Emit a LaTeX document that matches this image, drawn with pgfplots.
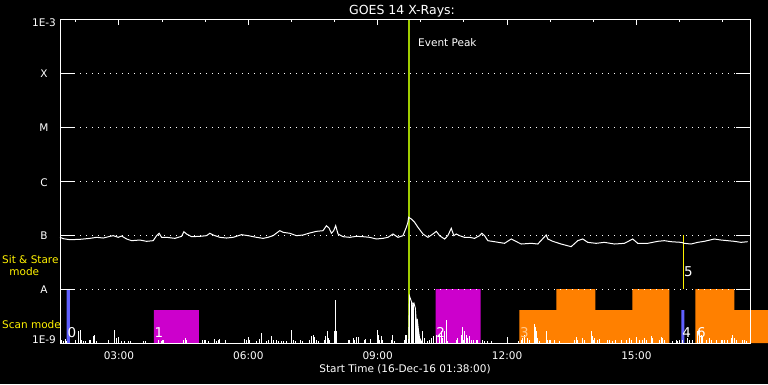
\documentclass[border=0pt]{standalone}
\usepackage{pgfplots}
\pgfplotsset{compat=1.18}
\usepackage{fontspec}
\setmainfont{DejaVu Sans}
\definecolor{gline}{RGB}{160,204,0}
\definecolor{mag}{RGB}{204,0,204}
\definecolor{org}{RGB}{255,128,0}
\definecolor{blu}{RGB}{96,96,255}
\definecolor{pale}{RGB}{255,200,140}
\newcommand{\sm}{\fontsize{10.5}{12}\selectfont}
\newcommand{\bg}{\fontsize{13.5}{15}\selectfont}
\begin{document}
\begin{tikzpicture}
\fill[black] (0pt,0pt) rectangle (768pt,384pt);
\begin{axis}[
  at={(60pt,41pt)}, anchor=south west, scale only axis,
  width=690pt, height=324pt,
  xmin=1.6333, xmax=17.6333, ymin=0, ymax=6,
  clip=false, axis on top, no markers,
  axis line style={white, line width=1pt},
  xtick={3,6,9,12,15},
  xticklabels={03:00,06:00,09:00,12:00,15:00},
  minor xtick={2,4,5,7,8,10,11,13,14,16,17},
  major tick length=6pt, minor tick length=3pt,
  tick style={white, line width=1pt},
  xticklabel style={text=white, font=\sm, anchor=base, yshift=-16.3pt},
  ytick=\empty,
]
% mode blocks
\addplot[fill=mag, draw=none] coordinates {(3.810,0) (3.810,0.611) (4.853,0.611) (4.853,0)} \closedcycle;
\addplot[fill=mag, draw=none] coordinates {(10.343,0) (10.343,1) (11.385,1) (11.385,0)} \closedcycle;
\addplot[fill=org, draw=none] coordinates {(12.288,0) (12.288,0.611) (13.146,0.611) (13.146,1) (14.049,1) (14.049,0.611) (14.906,0.611) (14.906,1) (15.763,1) (15.763,0)} \closedcycle;
\addplot[fill=org, draw=none] coordinates {(16.365,0) (16.365,1) (17.269,1) (17.269,0.611) (18.05,0.611) (18.05,0)} \closedcycle;
\addplot[fill=blu, draw=none] coordinates {(1.788,0) (1.788,1) (1.865,1) (1.865,0)} \closedcycle;
\addplot[fill=blu, draw=none] coordinates {(16.041,0) (16.041,0.611) (16.111,0.611) (16.111,0)} \closedcycle;
% event peak and sit & stare markers
\addplot[gline, line width=2pt] coordinates {(9.717,0) (9.717,6)};
\addplot[yellow, line width=1.3pt] coordinates {(16.088,1) (16.088,2)};
% long channel (decades above 1E-9)
\addplot[white, line width=1pt, sharp plot] table {
x y
1.633 1.957
1.71 1.932
1.865 1.913
2.096 1.920
2.328 1.938
2.483 1.957
2.636 1.944
2.791 1.975
2.868 1.988
2.984 1.957
3.062 1.981
3.178 1.926
3.294 1.895
3.486 1.907
3.641 1.883
3.795 1.895
3.873 1.988
3.933 2.032
3.989 1.957
4.105 1.957
4.297 1.938
4.452 1.975
4.505 2.061
4.568 2.019
4.684 1.969
4.876 1.975
5.031 1.988
5.108 2.032
5.185 2.000
5.339 1.957
5.495 1.944
5.648 1.957
5.842 2.006
5.995 1.988
6.190 1.957
6.343 1.938
6.458 1.957
6.574 1.988
6.729 2.080
6.806 2.050
6.961 2.032
7.116 1.988
7.269 2.000
7.424 2.037
7.580 2.068
7.732 2.080
7.811 2.172
7.871 2.130
7.927 2.032
7.980 2.080
8.026 2.172
8.080 2.019
8.196 1.969
8.351 1.957
8.506 1.975
8.659 1.969
8.814 1.957
8.969 1.926
9.122 1.938
9.238 1.957
9.354 2.019
9.470 1.957
9.586 1.988
9.664 2.143
9.701 2.235
9.717 2.328
9.780 2.296
9.856 2.235
9.933 2.143
10.049 2.019
10.165 1.957
10.281 2.019
10.359 2.068
10.435 1.988
10.551 1.926
10.627 1.988
10.706 2.124
10.766 1.988
10.822 2.019
10.898 1.988
11.014 1.957
11.130 1.957
11.246 1.938
11.362 1.988
11.415 2.032
11.478 1.988
11.554 1.895
11.709 1.876
11.941 1.846
12.096 1.926
12.172 1.895
12.327 1.833
12.559 1.846
12.713 1.833
12.907 2.000
12.944 1.926
13.060 1.883
13.254 1.833
13.486 1.784
13.639 1.895
13.755 1.926
13.871 1.864
14.065 1.846
14.258 1.864
14.490 1.833
14.721 1.846
14.914 1.926
15.030 1.846
15.261 1.846
15.493 1.883
15.648 1.895
15.803 1.876
16.035 1.864
16.111 1.846
16.266 1.833
16.419 1.864
16.574 1.883
16.806 1.926
16.961 1.907
17.114 1.895
17.269 1.883
17.424 1.864
17.578 1.876
};
% short channel spikes
\addplot[white, line width=0.9pt, ycomb] table {
x y
1.656 0.061
1.709 0.031
1.749 0.074
1.788 0.043
1.980 0.050
2.057 0.228
2.096 0.235
2.136 0.061
2.173 0.031
2.212 0.043
2.312 0.050
2.344 0.061
2.404 0.135
2.437 0.148
2.467 0.043
2.752 0.050
2.907 0.241
2.946 0.093
3.062 0.031
3.139 0.031
3.215 0.031
3.271 0.031
3.563 0.031
3.625 0.043
3.919 0.061
3.989 0.043
4.026 0.061
4.505 0.061
4.535 0.093
4.568 0.061
4.939 0.050
4.992 0.050
5.068 0.031
5.223 0.074
5.263 0.043
5.300 0.061
5.339 0.080
5.478 0.050
5.918 0.074
5.958 0.050
6.034 0.061
6.189 0.043
6.266 0.080
6.296 0.185
6.421 0.031
6.474 0.050
6.528 0.124
6.574 0.050
6.653 0.050
6.690 0.031
6.769 0.031
6.822 0.043
6.884 0.031
7.000 0.241
7.037 0.061
7.093 0.031
7.216 0.061
7.246 0.043
7.424 0.061
7.463 0.135
7.500 0.143
7.540 0.111
7.579 0.061
7.616 0.043
7.755 0.061
7.788 0.124
7.825 0.217
7.848 0.093
7.887 0.061
7.987 0.217
8.010 0.791
8.043 0.217
8.311 0.050
8.351 0.061
8.427 0.093
8.466 0.050
8.506 0.106
8.543 0.061
8.559 0.111
8.698 0.050
8.714 0.080
8.837 0.080
8.992 0.246
9.022 0.154
9.052 0.061
9.085 0.124
9.115 0.050
9.316 0.061
9.340 0.143
9.393 0.031
9.625 0.061
9.648 0.154
9.671 0.154
9.740 0.865
9.780 0.772
9.817 0.709
9.840 0.741
9.872 0.648
9.896 0.402
9.919 0.431
9.949 0.217
9.972 0.093
10.012 0.031
10.049 0.217
10.088 0.093
10.150 0.031
10.197 0.061
10.243 0.093
10.289 0.124
10.373 0.154
10.435 0.154
10.475 0.217
10.512 0.093
10.558 0.217
10.604 0.420
10.628 0.031
10.822 0.061
10.859 0.093
10.938 0.154
10.975 0.291
11.015 0.217
11.054 0.154
11.091 0.093
11.130 0.124
11.170 0.061
11.223 0.050
11.285 0.061
11.322 0.050
11.438 0.061
11.478 0.031
11.554 0.031
11.633 0.031
12.265 0.031
12.328 0.061
12.365 0.093
12.404 0.154
12.481 0.093
12.520 0.050
12.636 0.352
12.659 0.291
12.689 0.217
12.712 0.093
12.752 0.031
12.907 0.217
12.944 0.061
12.983 0.050
13.099 0.050
13.215 0.031
13.562 0.050
13.602 0.106
13.639 0.061
13.755 0.093
13.794 0.050
13.949 0.228
13.987 0.124
14.026 0.093
14.102 0.050
14.142 0.080
14.334 0.050
14.373 0.050
14.450 0.031
14.512 0.050
14.644 0.050
14.760 0.061
14.836 0.093
14.876 0.050
15.068 0.061
15.145 0.061
15.184 0.093
15.223 0.050
15.339 0.135
15.376 0.093
15.531 0.050
15.571 0.106
15.608 0.093
15.647 0.061
15.840 0.031
15.918 0.050
15.955 0.031
16.071 0.050
16.187 0.093
16.226 0.061
16.303 0.050
16.419 0.217
16.458 0.246
16.498 0.154
16.535 0.124
16.613 0.050
16.690 0.093
16.729 0.061
16.845 0.050
16.961 0.061
16.998 0.050
17.037 0.061
17.114 0.050
17.193 0.093
17.230 0.143
17.268 0.093
17.308 0.061
17.462 0.050
17.501 0.050
17.540 0.031
};
% decay of the event in the short channel
\addplot[white, line width=0.9pt, sharp plot] coordinates {(9.717,0) (9.740,0.865) (9.780,0.772) (9.817,0.709) (9.840,0.741) (9.872,0.648) (9.896,0.402) (9.919,0.431) (9.949,0.217) (9.972,0.093) (10.012,0.031)};
% block numbers
\node[text=white, font=\bg, inner sep=0] at (axis cs:1.911,0.194) {0};
\node[text=white, font=\bg, inner sep=0] at (axis cs:3.926,0.194) {1};
\node[text=white, font=\bg, inner sep=0] at (axis cs:10.459,0.194) {2};
\node[text=pale, font=\bg, inner sep=0] at (axis cs:12.405,0.194) {3};
\node[text=white, font=\bg, inner sep=0] at (axis cs:16.162,0.194) {4};
\node[text=white, font=\bg, inner sep=0] at (axis cs:16.504,0.194) {6};
\node[text=white, font=\bg, inner sep=0] at (axis cs:16.203,1.315) {5};
\end{axis}
% y ticks and dotted levels
\foreach \k in {1,...,5} {
  \pgfmathsetmacro\yy{41+54*\k}
  \draw[white, line width=1pt, dash pattern=on 1pt off 5pt] (74pt,\yy pt) -- (736pt,\yy pt);
  \draw[white, line width=1pt] (60pt,\yy pt) -- (74pt,\yy pt);
  \draw[white, line width=1pt] (736pt,\yy pt) -- (750pt,\yy pt);
}
% y labels
\node[text=white, font=\sm, inner sep=0] at (44pt,361pt) {1E-3};
\node[text=white, font=\sm, inner sep=0] at (44pt,310.3pt) {X};
\node[text=white, font=\sm, inner sep=0] at (44pt,256.5pt) {M};
\node[text=white, font=\sm, inner sep=0] at (44pt,201.5pt) {C};
\node[text=white, font=\sm, inner sep=0] at (44pt,148pt) {B};
\node[text=white, font=\sm, inner sep=0] at (44pt,94.3pt) {A};
\node[text=white, font=\sm, inner sep=0] at (44pt,44pt) {1E-9};
% mode labels
\node[text=yellow, font=\sm, inner sep=0, anchor=base west] at (2pt,121pt) {Sit \& Stare};
\node[text=yellow, font=\sm, inner sep=0, anchor=base] at (24.3pt,109pt) {mode};
\node[text=yellow, font=\sm, inner sep=0, anchor=base west] at (2pt,55.3pt) {Scan mode};
% titles
\node[text=white, font=\fontsize{12.5}{14}\selectfont, inner sep=0, anchor=base] at (402pt,370pt) {GOES 14 X-Rays:};
\node[text=white, font=\sm, inner sep=0, anchor=base west] at (418pt,337.3pt) {Event Peak};
\node[text=white, font=\sm, inner sep=0, anchor=base] at (405pt,12pt) {Start Time (16-Dec-16 01:38:00)};
\pgfresetboundingbox
\useasboundingbox (0pt,0pt) rectangle (768pt,384pt);
\end{tikzpicture}
\end{document}
